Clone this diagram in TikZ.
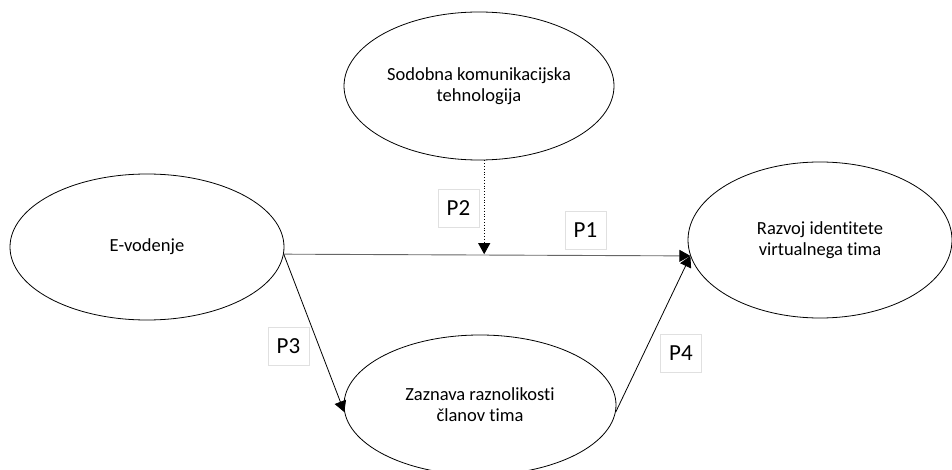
\documentclass[tikz,border=0pt]{standalone}
\usepackage{fontspec}
\setmainfont{Carlito}[Ligatures=NoCommon]
\usetikzlibrary{shapes.geometric,arrows.meta}

\begin{document}
\begin{tikzpicture}[x=1pt,y=-1pt,
  ell/.style={draw,ellipse,line width=0.8pt,inner sep=0pt,align=center,font=\fontsize{18.5}{21}\selectfont},
  plab/.style={draw=black!12,line width=0.8pt,fill=white,minimum width=41pt,minimum height=38pt,inner sep=0pt,font=\fontsize{23}{26}\selectfont},
  tip/.style={-{Triangle[length=11pt,width=12pt,color=black]}}]
\useasboundingbox (0,0) rectangle (952,470);
% ellipses
\node[ell,minimum width=274pt,minimum height=146pt] (ev) at (147,247) {E-vodenje};
\node[ell,minimum width=270pt,minimum height=148pt] (st) at (479,86) {Sodobna komunikacijska\\tehnologija};
\node[ell,minimum width=264pt,minimum height=156pt] (rv) at (820,240) {Razvoj identitete\\virtualnega tima};
\node[ell,minimum width=272pt,minimum height=140pt] (zv) at (480,405) {Zaznava raznolikosti\\članov tima};
\coordinate (hit) at (rv.187);
\coordinate (junc) at (st.-86 |- ev.-3);
% connectors
\draw[tip,black!60,line width=0.9pt] (ev.-3) -- (hit);
\draw[tip,dotted,line width=0.8pt] (st.-86) -- (junc);
\draw[tip,line width=0.8pt] (ev.-3) -- (zv.183);
\draw[tip,line width=0.8pt] (zv.-3) -- (hit);
% labels
\node[plab] (p1) at (585.5,230) {P1};
\node[plab] (p2) at (458.5,208) {P2};
\node[plab] (p3) at (288.5,346) {P3};
\node[plab] (p4) at (681,353) {P4};
\end{tikzpicture}
\end{document}
